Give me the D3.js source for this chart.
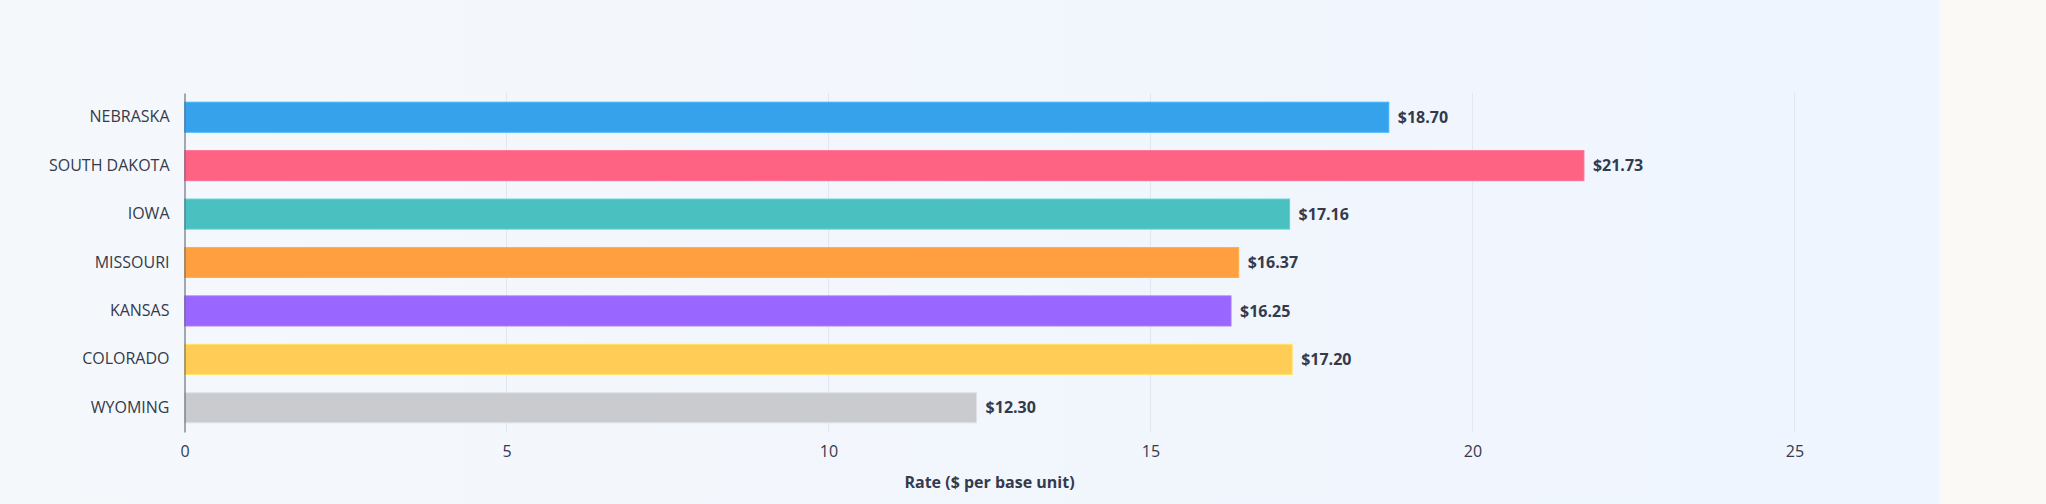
<!DOCTYPE html>
<html>
<head>
<meta charset="utf-8">
<script src="https://cdn.jsdelivr.net/npm/d3@7"></script>
<style>
  html, body { margin: 0; padding: 0; background: #faf9f6; }
  body { width: 2046px; height: 504px; overflow: hidden; }
  #panel { position: absolute; left: 0; top: 0; width: 1939px; height: 504px;
    background: linear-gradient(90deg, #f5f8fb 0%, #eff5ff 100%); }
  svg { position: absolute; left: 0; top: 0; }
  text { font-family: "Open Sans", "Noto Sans", sans-serif; }
</style>
</head>
<body>
<div id="panel"></div>
<svg id="chart" width="2046" height="504"></svg>
<script>
const categories = ["NEBRASKA", "SOUTH DAKOTA", "IOWA", "MISSOURI", "KANSAS", "COLORADO", "WYOMING"];
const rates = [18.70, 21.73, 17.16, 16.37, 16.25, 17.20, 12.30];
const barColors = ["#36a2eb", "#ff6384", "#4bc0c0", "#ff9f40", "#9966ff", "#ffcd56", "#c9cbcf"];
const xTicks = [0, 5, 10, 15, 20, 25];
const xTitle = "Rate ($ per base unit)";

const margin = { left: 184.5, right: 2046 - 1794.5, top: 93, bottom: 504 - 432 };
const W = 2046, H = 504;
const svg = d3.select("#chart");

const x = d3.scaleLinear().domain([0, 25]).range([margin.left, W - margin.right]);
const y = d3.scaleBand().domain(categories).range([margin.top, H - margin.bottom])
  .paddingInner(0.38).paddingOuter(0.19);

const textColor = "#343a4c";
const fontSize = 16;

// gridlines
svg.append("g").selectAll("line").data(xTicks.filter(d => d !== 0)).join("line")
  .attr("x1", d => x(d)).attr("x2", d => x(d))
  .attr("y1", margin.top).attr("y2", H - margin.bottom)
  .attr("stroke", "#e2e7ef").attr("stroke-width", 1);

// bars
const data = categories.map((c, i) => ({ c, v: rates[i], col: barColors[i] }));
svg.append("g").selectAll("rect").data(data).join("rect")
  .attr("x", x(0))
  .attr("y", d => y(d.c))
  .attr("width", d => x(d.v) - x(0))
  .attr("height", y.bandwidth())
  .attr("fill", d => d.col)
  .attr("stroke", d => d3.color(d.col).brighter(0.3))
  .attr("stroke-width", 1);

// value labels
svg.append("g").selectAll("text").data(data).join("text")
  .attr("x", d => x(d.v) + 9)
  .attr("y", d => y(d.c) + y.bandwidth() / 2)
  .attr("dy", "0.35em")
  .attr("fill", textColor)
  .attr("font-size", fontSize)
  .attr("font-weight", 700)
  .text(d => "$" + d.v.toFixed(2));

// y axis
const yAxis = svg.append("g").attr("transform", `translate(${margin.left},0)`)
  .call(d3.axisLeft(y).tickSize(0).tickPadding(15));
yAxis.select(".domain").attr("stroke", "#6b7280").attr("stroke-width", 1.2);
yAxis.selectAll("text").attr("font-size", fontSize).attr("fill", textColor)
  .attr("font-family", "'Open Sans', 'Noto Sans', sans-serif");

// x axis
const xAxis = svg.append("g").attr("transform", `translate(0,${H - margin.bottom})`)
  .call(d3.axisBottom(x).tickValues(xTicks).tickSize(0).tickPadding(14).tickFormat(d3.format("d")));
xAxis.select(".domain").remove();
xAxis.selectAll("text").attr("font-size", fontSize).attr("fill", textColor)
  .attr("font-family", "'Open Sans', 'Noto Sans', sans-serif");

// x title
svg.append("text")
  .attr("x", (x.range()[0] + x.range()[1]) / 2)
  .attr("y", 482)
  .attr("dy", "0.35em")
  .attr("text-anchor", "middle")
  .attr("fill", textColor)
  .attr("font-size", fontSize)
  .attr("font-weight", 700)
  .text(xTitle);
</script>
</body>
</html>
